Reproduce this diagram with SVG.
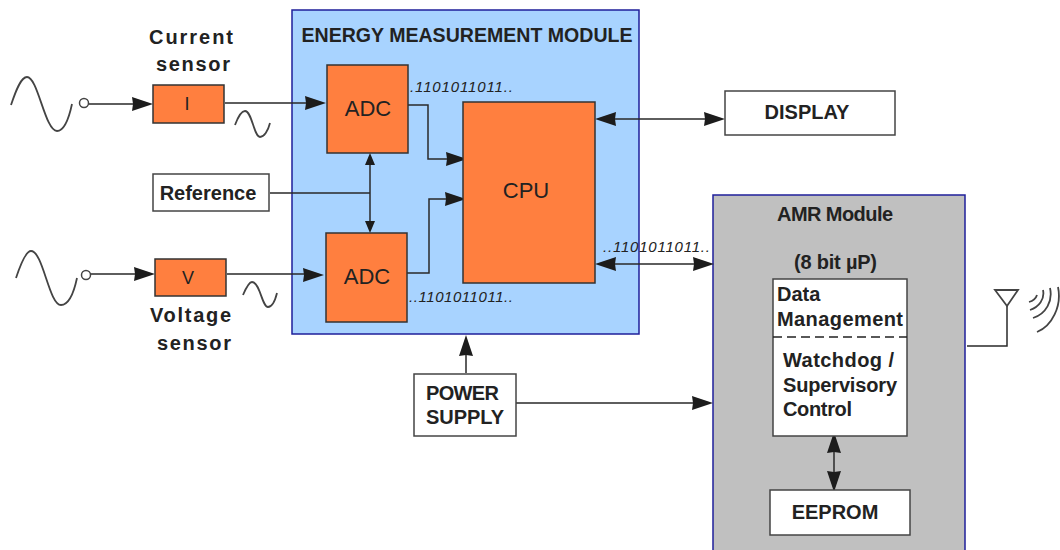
<svg xmlns="http://www.w3.org/2000/svg" width="1060" height="550" viewBox="0 0 1060 550">
<style>
text{font-family:"Liberation Sans",Arial,sans-serif;fill:#222}
.b{font-weight:bold;font-size:20px}
.r{font-size:22px}
.i{font-style:italic;font-size:15px}
.o{fill:#ff7f3f;stroke:#333;stroke-width:1.5}
.w{fill:#fff;stroke:#444;stroke-width:1.5}
.m{fill:#a8d3ff;stroke:#1f1f9a;stroke-width:1.5}
.s{fill:none;stroke:#2a2a2a;stroke-width:1.5}
.g{fill:none;stroke:#444;stroke-width:1.8}
.a{fill:#1c1c1c;stroke:none}
</style>
<defs>
<path id="ah" class="a" d="M0 0L-21 -7L-20 0L-21 7Z"/>
<path id="as" class="a" d="M0 0L-12 -5L-12 5Z"/>
</defs>
<rect width="1060" height="550" fill="#fff"/>
<g id="energy-module"><rect class="m" x="292" y="10" width="347" height="324"/><text class="b" x="467" y="42" text-anchor="middle" textLength="331" lengthAdjust="spacingAndGlyphs">ENERGY MEASUREMENT MODULE</text></g>
<g id="amr-module"><rect x="713" y="195" width="252" height="356" fill="#c0c0c0" stroke="#1f1f9a" stroke-width="1.5"/><text class="b" x="777" y="221" textLength="116">AMR Module</text><text class="b" x="794" y="269" textLength="83">(8 bit µP)</text></g>
<g id="connectors">
<path class="s" d="M89 104H135M225 103H310M90 274H135M227 274H310M270 193H370M370 165V222M408 105H428V159H450M407 273H429V199H450M605 119H705M605 264H698M466 373V350M516 403H698M834 450V475M967 346H1007V306"/>
<use href="#ah" transform="translate(153 104)"/>
<use href="#ah" transform="translate(155 274)"/>
<use href="#ah" transform="translate(326 103)"/>
<use href="#ah" transform="translate(324 275)"/>
<use href="#as" transform="translate(370 153) rotate(-90)"/>
<use href="#as" transform="translate(370 233) rotate(90)"/>
<use href="#ah" transform="translate(467 159)"/>
<use href="#ah" transform="translate(466 199)"/>
<use href="#ah" transform="translate(595 119) rotate(180)"/>
<use href="#ah" transform="translate(595 264) rotate(180)"/>
<use href="#ah" transform="translate(725 119)"/>
<use href="#ah" transform="translate(714 264)"/>
<use href="#ah" transform="translate(466 335) rotate(-90)"/>
<use href="#ah" transform="translate(713 403)"/>
<use href="#ah" transform="translate(834 432) rotate(-90)"/>
<use href="#ah" transform="translate(834 492) rotate(90)"/>
</g>
<g id="waves">
<path class="g" d="M11 105C16 90 21 77 27 77C38 77 45 131 57 131C64 131 69 118 72 104"/>
<path class="g" d="M16 278C21 263 26 251 31 251C43 251 49 305 61 305C69 305 74 292 77 278"/>
<path class="g" d="M235 125C238 117 241 111 245 111C252 111 254 137 260 137C264 137 268 131 270 123"/>
<path class="g" d="M243 295C246 288 249 282 252 282C260 282 262 307 268 307C272 307 275 301 277 293"/>
<circle cx="84" cy="103" r="4.5" fill="#fff" stroke="#444" stroke-width="1.5"/>
<circle cx="86" cy="275" r="4.5" fill="#fff" stroke="#444" stroke-width="1.5"/>
</g>
<g id="current-sensor"><rect class="o" x="153" y="85" width="71" height="38"/><text x="187" y="110" text-anchor="middle" font-size="18">I</text><text class="b" x="149" y="44" textLength="84">Current</text><text class="b" x="156" y="71" textLength="74">sensor</text></g>
<g id="voltage-sensor"><rect class="o" x="155" y="259" width="71" height="37"/><text x="188" y="284" text-anchor="middle" font-size="18">V</text><text class="b" x="150" y="322" textLength="81">Voltage</text><text class="b" x="157" y="350" textLength="74">sensor</text></g>
<g id="reference"><rect class="w" x="153" y="174" width="116" height="37"/><text class="b" x="208" y="200" text-anchor="middle">Reference</text></g>
<g id="adc-1"><rect class="o" x="327" y="65" width="81" height="88"/><text class="r" x="368" y="116" text-anchor="middle">ADC</text></g>
<g id="adc-2"><rect class="o" x="326" y="233" width="81" height="89"/><text class="r" x="367" y="284" text-anchor="middle">ADC</text></g>
<g id="cpu"><rect class="o" x="463" y="102" width="132" height="181"/><text class="r" x="526" y="198" text-anchor="middle">CPU</text></g>
<g id="bits"><text class="i" x="410" y="92" textLength="103">.1101011011..</text><text class="i" x="409" y="302" textLength="104">..1101011011..</text><text class="i" x="603" y="252" textLength="107">..1101011011..</text></g>
<g id="display"><rect class="w" x="725" y="91" width="170" height="44"/><text class="b" x="807" y="119" text-anchor="middle">DISPLAY</text></g>
<g id="power-supply"><rect class="w" x="414" y="374" width="102" height="62"/><text class="b" x="426" y="400" textLength="73">POWER</text><text class="b" x="426" y="424" textLength="78">SUPPLY</text></g>
<g id="data-management"><rect class="w" x="773" y="279" width="134" height="157"/><path d="M773 337H907" fill="none" stroke="#222" stroke-width="1.5" stroke-dasharray="9 5"/><text class="b" x="777" y="301">Data</text><text class="b" x="777" y="326" textLength="126">Management</text><text class="b" x="783" y="367" textLength="111">Watchdog /</text><text class="b" x="783" y="392" textLength="114">Supervisory</text><text class="b" x="783" y="416" textLength="69">Control</text></g>
<g id="eeprom"><rect class="w" x="770" y="490" width="140" height="45"/><text class="b" x="835" y="519" text-anchor="middle">EEPROM</text></g>
<g id="antenna"><path class="g" d="M995 290H1018L1007 306Z"/><path class="g" d="M1029 302C1033 301 1036 298 1037 295M1030 310C1039 307 1045 299 1043 290M1033 318C1046 314 1053 301 1050 288M1037 332C1052 326 1062 306 1058 287"/></g>
</svg>
